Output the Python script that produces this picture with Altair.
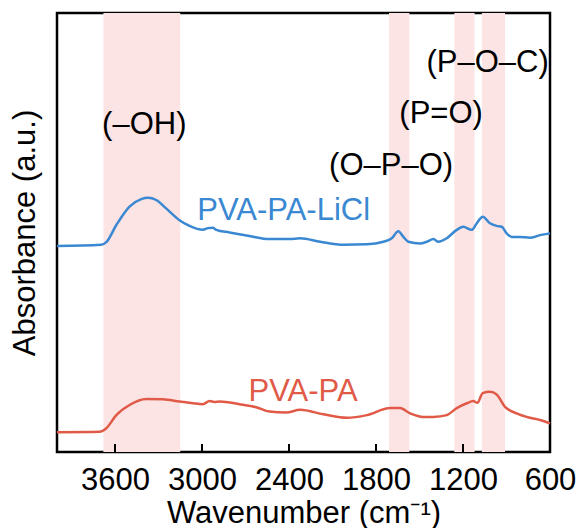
import altair as alt
import pandas as pd

# PVA-PA-LiCl spectrum (wavenumber, absorbance a.u.)
wn_blue = [4000, 3695, 3660, 3591, 3500, 3419, 3373, 3316, 3247, 3155, 3086, 2994, 2959, 2925, 2902,
           2810, 2673, 2535, 2397, 2323, 2185, 2025, 1863, 1749, 1691, 1646, 1611, 1577, 1496, 1450,
           1404, 1370, 1312, 1243, 1198, 1140, 1105, 1064, 1014, 968, 933, 899, 864, 807, 738, 669, 600]
a_blue = [46.9, 47.2, 47.8, 51.7, 55.9, 57.6, 57.9, 57.4, 55.5, 52.8, 51.5, 50.6, 51.0, 51.1, 50.6,
          50.0, 49.2, 48.5, 48.5, 48.7, 47.9, 47.2, 47.3, 47.9, 48.7, 50.3, 49.0, 47.9, 47.5, 47.9,
          48.5, 47.9, 48.7, 50.6, 51.3, 50.6, 52.1, 53.6, 52.1, 51.5, 51.3, 49.8, 49.0, 49.0, 48.8, 49.4, 49.8]

# PVA-PA spectrum
wn_red = [4000, 3706, 3660, 3591, 3500, 3385, 3269, 3155, 3063, 2994, 2948, 2914, 2879, 2742, 2626,
          2535, 2420, 2323, 2163, 2001, 1863, 1703, 1634, 1565, 1473, 1404, 1312, 1243, 1174, 1129,
          1101, 1064, 1014, 968, 910, 830, 738, 669, 600]
a_red = [4.5, 4.6, 5.4, 8.4, 10.7, 12.1, 12.0, 11.5, 11.1, 10.9, 11.6, 11.4, 11.5, 10.9, 10.2,
         9.2, 9.0, 9.6, 8.6, 7.8, 8.4, 10.0, 10.0, 8.8, 8.0, 8.0, 8.4, 10.0, 11.1, 11.6,
         11.2, 13.4, 13.7, 13.1, 10.3, 8.8, 7.8, 7.3, 6.5]

# shaded bands
band_start = [3680, 1710, 1260, 1070]
band_end = [3150, 1570, 1120, 910]

# annotations
ann_text = ["(–OH)", "(O–P–O)", "(P=O)", "(P–O–C)"]
ann_x = [3398, 1696, 1351, 1030]
ann_y = [74.5, 65.1, 77.0, 88.6]

series_text = ["PVA-PA-LiCl", "PVA-PA"]
series_x = [2437, 2303]
series_y = [54.9, 13.7]
series_color = ["#3a88d2", "#e05a47"]

tick_values = [3600, 3000, 2400, 1800, 1200, 600]

FONT = "Liberation Sans"
FS = 31
W, H = 493, 439

xscale = alt.Scale(domain=[600, 4000], reverse=True, nice=False, zero=False)
yscale = alt.Scale(domain=[0, 100], nice=False, zero=False)

df_blue = pd.DataFrame({"wn": wn_blue, "a": a_blue, "s": "PVA-PA-LiCl"})
df_red = pd.DataFrame({"wn": wn_red, "a": a_red, "s": "PVA-PA"})
df_lines = pd.concat([df_blue, df_red])
df_band = pd.DataFrame({"x1": band_start, "x2": band_end})
df_ann = pd.DataFrame({"t": ann_text, "x": ann_x, "y": ann_y})
df_ser = pd.DataFrame({"t": series_text, "x": series_x, "y": series_y, "c": series_color})
df_ticks = pd.DataFrame({"v": tick_values})

bands = alt.Chart(df_band).mark_rect(color="#fce4e4").encode(
    x=alt.X("x1:Q", scale=xscale,
            axis=alt.Axis(values=tick_values, format="d", title="Wavenumber (cm⁻¹)", ticks=False,
                          domain=False, grid=False, labelFont=FONT, labelFontSize=FS,
                          labelColor="black", labelPadding=13, titleFont=FONT, titleFontSize=FS,
                          titleColor="black", titleFontWeight="normal", titlePadding=3,
                          labelFlush=False)),
    x2="x2:Q",
    y=alt.value(0),
    y2=alt.value(H),
)

lines = alt.Chart(df_lines).mark_line(strokeWidth=2.5, interpolate="monotone").encode(
    x=alt.X("wn:Q", scale=xscale),
    y=alt.Y("a:Q", scale=yscale,
            axis=alt.Axis(labels=False, ticks=False, domain=False, grid=False,
                          title="Absorbance (a.u.)", titleFont=FONT, titleFontSize=FS,
                          titleColor="black", titleFontWeight="normal", titlePadding=16)),
    color=alt.Color("s:N", scale=alt.Scale(domain=series_text, range=series_color), legend=None),
    detail="s:N",
    order=alt.Order("idx:Q"),
).transform_window(idx="row_number()", groupby=["s"])

ann = alt.Chart(df_ann).mark_text(font=FONT, fontSize=FS, color="black").encode(
    x=alt.X("x:Q", scale=xscale), y=alt.Y("y:Q", scale=yscale), text="t:N")

ser = alt.Chart(df_ser).mark_text(font=FONT, fontSize=FS).encode(
    x=alt.X("x:Q", scale=xscale), y=alt.Y("y:Q", scale=yscale), text="t:N",
    color=alt.Color("c:N", scale=None))

ticks = alt.Chart(df_ticks).mark_tick(color="#000000", size=8, thickness=2, opacity=1).encode(
    x=alt.X("v:Q", scale=xscale), y=alt.value(H - 4))

chart = alt.layer(bands, lines, ann, ser, ticks).properties(
    width=W, height=H,
    background="white",
    autosize=alt.AutoSizeParams(type="none"),
    padding={"left": 57, "top": 13, "right": 31, "bottom": 76},
).configure_view(stroke="black", strokeWidth=2.5)

chart.save("out.html", embed_options={"renderer": "svg", "actions": False})
